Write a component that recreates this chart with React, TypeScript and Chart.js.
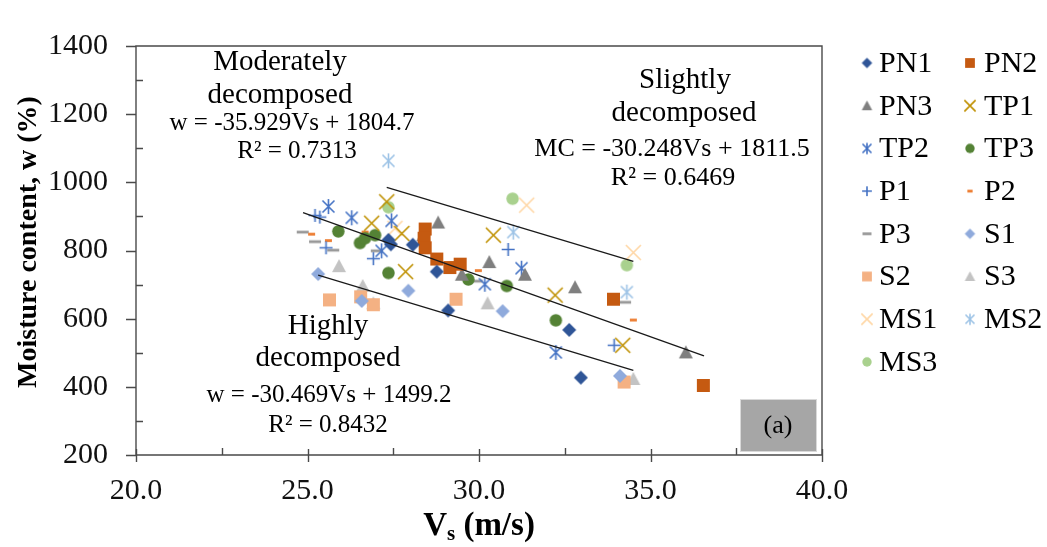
import React, { useEffect, useRef } from 'react';
import { Chart, registerables } from 'chart.js';

Chart.register(...registerables);

const FONT = '"Liberation Serif", "Times New Roman", serif';

// ---------- data: [Vs (m/s), w (%)] ----------
const PN1: [number, number][] = [[27.36, 831], [27.43, 818], [28.07, 817], [28.77, 738], [29.10, 624], [32.63, 567], [32.97, 427]];
const PN2: [number, number][] = [[28.43, 863], [28.40, 836], [28.43, 808], [28.77, 775], [29.15, 750], [29.45, 760], [33.92, 657], [36.54, 404]];
const PN3: [number, number][] = [[28.81, 882], [28.38, 845], [29.50, 729], [30.30, 766], [31.34, 729], [32.80, 692], [36.03, 501]];
const TP1: [number, number][] = [[27.31, 943], [26.87, 880], [27.75, 850], [27.86, 738], [30.42, 845], [32.22, 669], [34.19, 522]];
const TP2: [number, number][] = [[25.61, 929], [26.29, 896], [27.45, 887], [27.16, 799], [30.17, 701], [31.24, 748], [32.24, 501]];
const TP3: [number, number][] = [[25.90, 856], [26.53, 822], [26.68, 836], [26.97, 845], [27.36, 734], [29.69, 715], [30.81, 696], [32.24, 595]];
const P1: [number, number][] = [[25.22, 903], [25.36, 898], [25.54, 808], [26.92, 776], [30.85, 803], [33.94, 522]];
const P2: [number, number][] = [[25.12, 848], [25.61, 829], [26.68, 854], [29.98, 741], [34.50, 596]];
const P3: [number, number][] = [[24.86, 854], [25.22, 826], [25.75, 801], [27.02, 799], [29.93, 710], [34.26, 648]];
const S1: [number, number][] = [[25.31, 731], [27.94, 682], [26.58, 652], [30.69, 622], [34.11, 432]];
const S2: [number, number][] = [[25.64, 655], [26.55, 664], [26.92, 641], [29.33, 657], [34.23, 414]];
const S3: [number, number][] = [[25.92, 754], [26.61, 696], [26.92, 645], [30.25, 645], [34.50, 423]];
const MS1: [number, number][] = [[27.55, 865], [31.39, 933], [34.50, 794]];
const MS2: [number, number][] = [[27.36, 1063], [31.00, 854], [34.31, 678]];
const MS3: [number, number][] = [[27.36, 927], [30.98, 952], [34.31, 757]];

const SERIES_NAMES = ['PN1', 'PN2', 'PN3', 'TP1', 'TP2', 'TP3', 'P1', 'P2', 'P3', 'S1', 'S2', 'S3', 'MS1', 'MS2', 'MS3'];
const SERIES_DATA = [PN1, PN2, PN3, TP1, TP2, TP3, P1, P2, P3, S1, S2, S3, MS1, MS2, MS3];

// trend lines: slope, intercept, Vs range
const TREND_SLOPES = [-35.929, -30.248, -30.469];
const TREND_INTERCEPTS = [1804.7, 1811.5, 1499.2];
const TREND_FROM = [24.87, 27.31, 25.31];
const TREND_TO = [36.56, 34.50, 34.50];

const X_TICKS = [20, 25, 30, 35, 40];
const Y_TICKS = [200, 400, 600, 800, 1000, 1200, 1400];

// ---------- styles ----------
const SERIES_SHAPES = ['diamond', 'square', 'triangle', 'x', 'asterisk', 'circle', 'plus', 'dashShort', 'dashLong', 'diamond', 'square', 'triangle', 'x', 'asterisk', 'circle'];
const SERIES_COLORS = ['#2F5597', '#C55A11', '#7F7F7F', '#BF9000', '#4472C4', '#548235', '#4472C4', '#ED7D31', '#999999', '#8FAADC', '#F4B183', '#C3C3C3', '#FFD7A6', '#9DC3E6', '#A9D18E'];

function makeMarker(shape: string, color: string, scale: number): HTMLCanvasElement {
  const base: Record<string, number> = { diamond: 14, square: 13, triangle: 14, circle: 12.5, x: 15, asterisk: 15, plus: 13, dashShort: 7, dashLong: 12 };
  const s = base[shape] * scale;
  const size = Math.ceil(s + 4);
  const c = document.createElement('canvas');
  c.width = size;
  c.height = size;
  const g = c.getContext('2d')!;
  const m = size / 2;
  const r = s / 2;
  g.fillStyle = color;
  g.strokeStyle = color;
  g.lineWidth = 1.6;
  g.beginPath();
  switch (shape) {
    case 'diamond':
      g.moveTo(m, m - r); g.lineTo(m + r, m); g.lineTo(m, m + r); g.lineTo(m - r, m); g.closePath(); g.fill();
      break;
    case 'square':
      g.fillRect(m - r, m - r, 2 * r, 2 * r);
      break;
    case 'triangle':
      g.moveTo(m, m - r); g.lineTo(m + r, m + r * 0.85); g.lineTo(m - r, m + r * 0.85); g.closePath(); g.fill();
      break;
    case 'circle':
      g.arc(m, m, r, 0, Math.PI * 2); g.fill();
      break;
    case 'x':
      g.moveTo(m - r, m - r); g.lineTo(m + r, m + r); g.moveTo(m + r, m - r); g.lineTo(m - r, m + r); g.stroke();
      break;
    case 'asterisk':
      g.moveTo(m - r * 0.8, m - r * 0.8); g.lineTo(m + r * 0.8, m + r * 0.8); g.moveTo(m + r * 0.8, m - r * 0.8); g.lineTo(m - r * 0.8, m + r * 0.8);
      g.moveTo(m, m - r); g.lineTo(m, m + r); g.stroke();
      break;
    case 'plus':
      g.moveTo(m - r, m); g.lineTo(m + r, m); g.moveTo(m, m - r); g.lineTo(m, m + r); g.stroke();
      break;
    case 'dashShort':
    case 'dashLong':
      g.fillRect(m - r, m - 1.4, 2 * r, 2.8);
      break;
  }
  return c;
}

const AXIS_COLOR = '#4a4a4a';

const framePlugin = {
  id: 'frame',
  beforeDatasetsDraw(chart: any) {
    const { ctx, chartArea: a, scales } = chart;
    ctx.save();
    ctx.strokeStyle = AXIS_COLOR;
    ctx.lineWidth = 1.4;
    ctx.beginPath();
    ctx.rect(a.left, a.top, a.right - a.left, a.bottom - a.top);
    ctx.stroke();
    ctx.beginPath();
    for (let v = 200; v <= 1400; v += 100) {
      const y = Math.round(scales.y.getPixelForValue(v)) + 0.5;
      if (v % 200 === 0) { ctx.moveTo(a.left - 10, y); ctx.lineTo(a.left, y); }
      else { ctx.moveTo(a.left, y); ctx.lineTo(a.left + 7, y); }
    }
    for (let v = 20; v <= 40; v += 2.5) {
      const x = Math.round(scales.x.getPixelForValue(v)) + 0.5;
      if (v % 5 === 0) { ctx.moveTo(x, a.bottom - 6); ctx.lineTo(x, a.bottom + 7); }
      else { ctx.moveTo(x, a.bottom - 7); ctx.lineTo(x, a.bottom); }
    }
    ctx.stroke();
    ctx.restore();
  },
  afterDraw(chart: any) {
    const { ctx } = chart;
    ctx.save();
    ctx.fillStyle = '#000';
    ctx.textAlign = 'center';
    ctx.textBaseline = 'middle';

    const LABEL = `29px ${FONT}`;
    const EQ = `25px ${FONT}`;
    const EQ2 = `26px ${FONT}`;
    const notes: [string, string, number, number][] = [
      ['Moderately', LABEL, 280, 62],
      ['decomposed', LABEL, 280, 95],
      ['w = -35.929Vs + 1804.7', EQ, 292, 123],
      ['R² = 0.7313', EQ, 297, 151],
      ['Slightly', LABEL, 685, 80],
      ['decomposed', LABEL, 684, 113],
      ['MC = -30.248Vs + 1811.5', EQ2, 672, 149],
      ['R² = 0.6469', EQ2, 673, 178],
      ['Highly', LABEL, 328, 326],
      ['decomposed', LABEL, 328, 358],
      ['w = -30.469Vs + 1499.2', EQ, 329, 395],
      ['R² = 0.8432', EQ, 328, 425],
    ];
    for (const [t, f, x, y] of notes) {
      ctx.font = f;
      ctx.fillText(t, x, y);
    }

    // (a) box
    ctx.fillStyle = '#A6A6A6';
    ctx.fillRect(740, 399, 77, 53);
    ctx.strokeStyle = '#D9D9D9';
    ctx.lineWidth = 1;
    ctx.strokeRect(740.5, 399.5, 76, 52);
    ctx.fillStyle = '#000';
    ctx.font = `26px ${FONT}`;
    ctx.fillText('(a)', 778, 426);

    // y title
    ctx.save();
    ctx.translate(29, 242);
    ctx.rotate(-Math.PI / 2);
    ctx.font = `bold 28px ${FONT}`;
    ctx.fillText('Moisture content, w (%)', 0, 0);
    ctx.restore();

    // x title with subscript
    ctx.textAlign = 'left';
    const big = `bold 33px ${FONT}`;
    const small = `bold 21px ${FONT}`;
    ctx.font = big;
    const wV = ctx.measureText('V').width;
    const wRest = ctx.measureText(' (m/s)').width;
    ctx.font = small;
    const wS = ctx.measureText('s').width;
    let x0 = 479 - (wV + wS + wRest) / 2;
    const yT = 526;
    ctx.font = big; ctx.fillText('V', x0, yT); x0 += wV;
    ctx.font = small; ctx.fillText('s', x0, yT + 9); x0 += wS;
    ctx.font = big; ctx.fillText(' (m/s)', x0, yT);

    // legend (row-major, 2 columns)
    const colMarker = [867, 970];
    const colText = [879, 984];
    ctx.font = `30px ${FONT}`;
    ctx.textBaseline = 'middle';
    SERIES_NAMES.forEach((name, i) => {
      const col = i % 2;
      const row = Math.floor(i / 2);
      const y = 63 + row * 42.7;
      const mk = makeMarker(SERIES_SHAPES[i], SERIES_COLORS[i], 0.75);
      ctx.drawImage(mk, colMarker[col] - mk.width / 2, y - mk.height / 2);
      ctx.fillStyle = '#000';
      ctx.fillText(name, colText[col], y + 1);
    });
    ctx.restore();
  },
};

export default function App() {
  const ref = useRef<HTMLCanvasElement | null>(null);
  useEffect(() => {
    if (!ref.current) return;
    const scatterSets = SERIES_DATA.map((pts, i) => ({
      label: SERIES_NAMES[i],
      data: pts.map(([x, y]) => ({ x, y })),
      pointStyle: makeMarker(SERIES_SHAPES[i], SERIES_COLORS[i], 1),
      pointRadius: 8,
      showLine: false,
      order: 1,
    }));
    const trendSets = TREND_SLOPES.map((m, i) => ({
      label: 'trend' + i,
      data: [TREND_FROM[i], TREND_TO[i]].map((x) => ({ x, y: m * x + TREND_INTERCEPTS[i] })),
      showLine: true,
      borderColor: '#1a1a1a',
      borderWidth: 1.3,
      pointRadius: 0,
      fill: false,
      order: 0,
    }));
    const tickFont = { family: FONT, size: 30 };
    const chart = new Chart(ref.current, {
      type: 'scatter',
      data: { datasets: [...scatterSets, ...trendSets] as any },
      options: {
        animation: false,
        responsive: false,
        events: [],
        layout: { padding: { top: 24, right: 225, left: 0, bottom: 0 } },
        plugins: { legend: { display: false }, tooltip: { enabled: false } },
        scales: {
          x: {
            type: 'linear',
            min: X_TICKS[0],
            max: X_TICKS[X_TICKS.length - 1],
            afterBuildTicks: (s: any) => { s.ticks = X_TICKS.map((v) => ({ value: v })); },
            ticks: { font: tickFont, color: '#111', padding: 18, maxRotation: 0, autoSkip: false, callback: (v: any) => Number(v).toFixed(1) },
            grid: { display: false, drawTicks: false },
            border: { display: false },
            afterFit: (s: any) => { s.height = 92; },
          },
          y: {
            type: 'linear',
            min: Y_TICKS[0],
            max: Y_TICKS[Y_TICKS.length - 1],
            afterBuildTicks: (s: any) => { s.ticks = Y_TICKS.map((v) => ({ value: v })); },
            ticks: { font: tickFont, color: '#111', padding: 28, autoSkip: false, callback: (v: any) => String(v) },
            grid: { display: false, drawTicks: false },
            border: { display: false },
            afterFit: (s: any) => { s.width = 136; },
          },
        },
      },
      plugins: [framePlugin],
    });
    return () => chart.destroy();
  }, []);
  return (
    <div style={{ position: 'absolute', left: 0, top: 0, width: 1047, height: 547, background: '#fff' }}>
      <canvas ref={ref} width={1047} height={547} style={{ display: 'block', width: 1047, height: 547 }} />
    </div>
  );
}
